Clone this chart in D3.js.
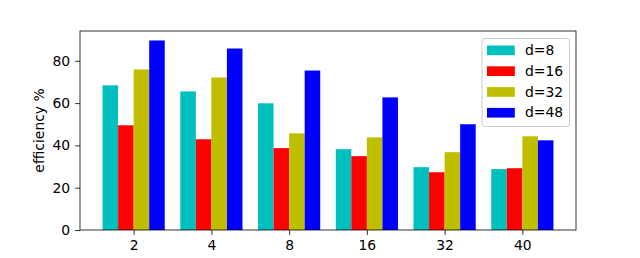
<!DOCTYPE html>
<html>
<head>
  <meta charset="utf-8">
  <title>Efficiency by d</title>
  <style>
    html, body { margin: 0; padding: 0; background: #fff; }
    svg text { font-family: "DejaVu Sans", sans-serif; fill: #000; }
  </style>
</head>
<body>
  <div id="chart"></div>
  <script src="https://d3js.org/d3.v7.min.js"></script>
  <script>
    // Chart data
    const categories = ["2", "4", "8", "16", "32", "40"];
    const seriesNames = ["d=8", "d=16", "d=32", "d=48"];
    const seriesColors = ["#00bfbf", "#ff0000", "#bfbf00", "#0000ff"];
    const d8  = [68.4, 65.5, 59.9, 38.2, 29.7, 28.8];
    const d16 = [49.5, 42.9, 38.7, 34.9, 27.3, 29.2];
    const d32 = [75.9, 72.1, 45.7, 43.8, 36.8, 44.3];
    const d48 = [89.6, 85.8, 75.4, 62.7, 50.0, 42.4];
    const yTicks = [0, 20, 40, 60, 80];

    const series = [d8, d16, d32, d48];
    const W = 640, H = 258;
    const margin = {top: 31, right: 64, bottom: 28, left: 80};
    const iw = W - margin.left - margin.right;
    const ih = H - margin.top - margin.bottom;
    const barW = 0.2;

    const svg = d3.select("#chart").append("svg")
      .attr("width", W).attr("height", H);
    const g = svg.append("g")
      .attr("transform", "translate(" + margin.left + "," + margin.top + ")");

    // x is a linear index scale like matplotlib with 5% margins
    const lo = -0.4, hi = categories.length - 1 + 0.4;
    const pad = (hi - lo) * 0.05;
    const x = d3.scaleLinear().domain([lo - pad, hi + pad]).range([0, iw]);
    const maxVal = d3.max(series, s => d3.max(s));
    const y = d3.scaleLinear().domain([0, maxVal * 1.05]).range([ih, 0]);

    // bars
    series.forEach((s, k) => {
      g.selectAll(null)
        .data(s)
        .enter().append("rect")
        .attr("x", (d, i) => x(i - 0.4 + k * barW))
        .attr("width", (d, i) => x(i - 0.4 + (k + 1) * barW) - x(i - 0.4 + k * barW))
        .attr("y", d => y(d))
        .attr("height", d => y(0) - y(d))
        .attr("fill", seriesColors[k]);
    });

    // axes
    const xAxis = d3.axisBottom(x)
      .tickValues(categories.map((c, i) => i))
      .tickFormat(i => categories[i])
      .tickSize(4.9).tickPadding(4.9);
    const yAxis = d3.axisLeft(y)
      .tickValues(yTicks)
      .tickSize(4.9).tickPadding(4.9);

    const gx = g.append("g").attr("transform", "translate(0," + ih + ")").call(xAxis);
    const gy = g.append("g").call(yAxis);
    [gx, gy].forEach(a => {
      a.select(".domain").remove();
      a.selectAll("line").attr("stroke", "#000").attr("stroke-width", 0.8);
      a.selectAll("text").style("font-size", "13.9px").style("font-family", "DejaVu Sans");
    });

    // frame
    g.append("rect")
      .attr("width", iw).attr("height", ih)
      .attr("fill", "none").attr("stroke", "#000").attr("stroke-width", 0.8);

    // y label
    svg.append("text")
      .attr("transform", "translate(44," + (margin.top + ih / 2) + ") rotate(-90)")
      .attr("text-anchor", "middle")
      .style("font-size", "13.9px")
      .text("efficiency %");

    // legend
    const lg = svg.append("g").attr("transform", "translate(482,38.5)");
    lg.append("rect")
      .attr("width", 87.5).attr("height", 88)
      .attr("rx", 2.8).attr("ry", 2.8)
      .attr("fill", "#fff").attr("fill-opacity", 0.8)
      .attr("stroke", "#cccccc").attr("stroke-width", 1);
    seriesNames.forEach((name, k) => {
      const row = lg.append("g").attr("transform", "translate(0," + (k * 20.8) + ")");
      row.append("rect")
        .attr("x", 5).attr("y", 7)
        .attr("width", 27.8).attr("height", 9.7)
        .attr("fill", seriesColors[k]);
      row.append("text")
        .attr("x", 43).attr("y", 16.5)
        .style("font-size", "13.9px")
        .text(name);
    });
  </script>
</body>
</html>
